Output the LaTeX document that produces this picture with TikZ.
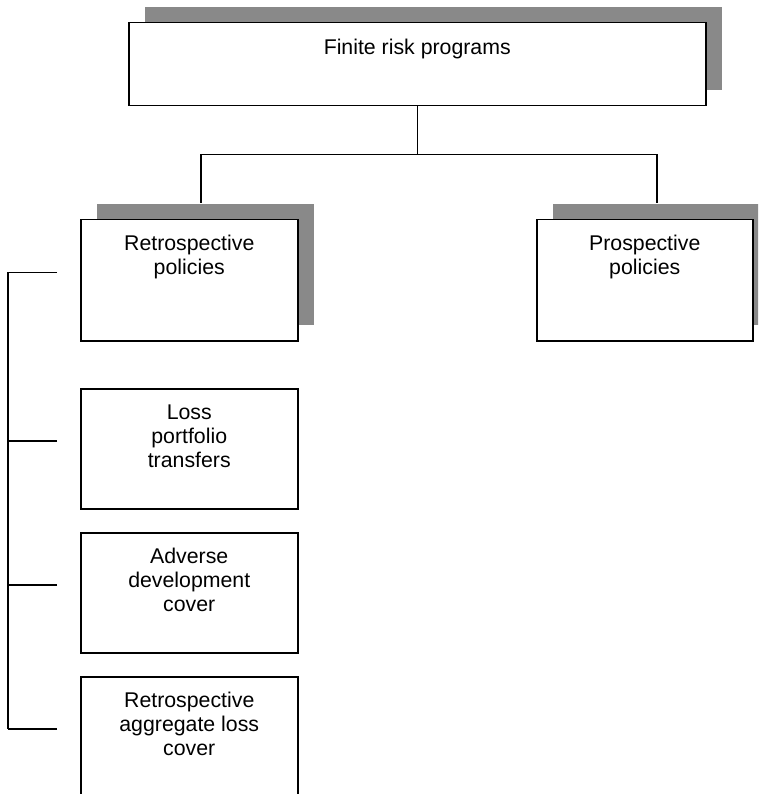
\documentclass[tikz,border=0pt]{standalone}
\usepackage{fontspec}
\setmainfont{Liberation Sans}
\usetikzlibrary{shadows}
\definecolor{shadowgray}{HTML}{898989}
\begin{document}
\begin{tikzpicture}[x=1pt,y=-1pt,
  box/.style={draw=black, line width=1.5pt, fill=white, inner sep=0pt,
    anchor=north west, minimum width=217pt, minimum height=120pt},
  shadowed/.style={general shadow={shadow xshift=16pt, shadow yshift=16pt, fill=shadowgray}},
  label text/.style={anchor=base, align=center, inner sep=0pt,
    font=\fontsize{21.3}{24}\selectfont},
  conn/.style={draw=black, line width=1.5pt}]
\useasboundingbox (0,0) rectangle (758,794);
\clip (0,0) rectangle (758,794);

% boxes
\node[box, shadowed, minimum width=577pt, minimum height=83pt] (top) at (128,22) {};
\node[box, shadowed, minimum height=121pt] (retro) at (80,219) {};
\node[box, shadowed, minimum width=216pt, minimum height=121pt] (prosp) at (536,219) {};
\node[box] (loss) at (80,388) {};
\node[box] (adverse) at (80,532) {};
\node[box] (aggregate) at (80,676) {};

% box texts (base anchor sits on the last line: 24pt per extra line)
\node[label text] (top-t) at ([yshift=-32.5pt]top.north) {Finite risk programs};
\node[label text] (retro-t) at ([yshift=-55.5pt]retro.north) {Retrospective\\policies};
\node[label text] (prosp-t) at ([yshift=-55.5pt]prosp.north) {Prospective\\policies};
\node[label text] (loss-t) at ([yshift=-79.5pt]loss.north) {Loss\\portfolio\\transfers};
\node[label text] (adverse-t) at ([yshift=-79.5pt]adverse.north) {Adverse\\development\\cover};
\node[label text] (aggregate-t) at ([yshift=-79.5pt]aggregate.north) {Retrospective\\aggregate loss\\cover};

% tree connectors
\coordinate (bus) at ([yshift=-48pt]top.south);
\coordinate (retro-in) at ([xshift=11.5pt,yshift=16pt]retro.north);
\coordinate (prosp-in) at ([xshift=12pt,yshift=16pt]prosp.north);
\draw[conn] (top.south) -- (bus);
\draw[conn] (retro-in) |- (bus) -| (prosp-in);

% left bracket
\foreach \b/\k in {retro/1, loss/2, adverse/3, aggregate/4} {
  \coordinate (tick\k) at ([xshift=-23pt,yshift=8pt]\b.west);
  \draw[conn] (tick\k) -- ++(-49pt,0) coordinate (spine\k);
}
\draw[conn] (spine1) -- (spine4);
\end{tikzpicture}
\end{document}
